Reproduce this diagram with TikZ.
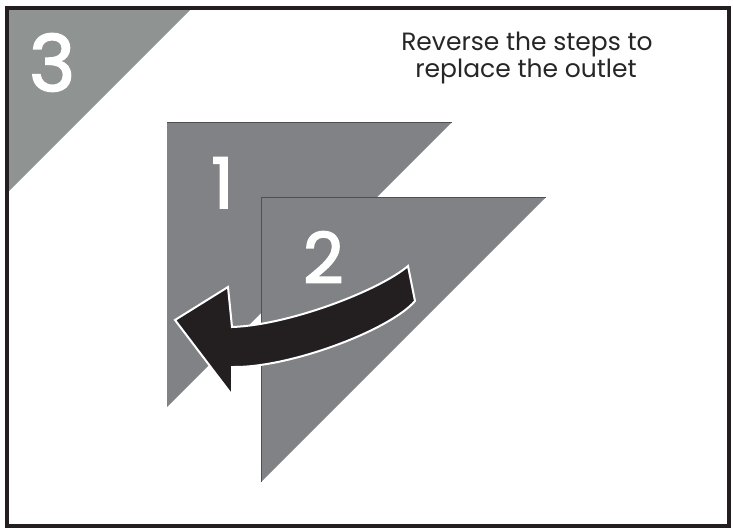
\documentclass[tikz,border=0pt]{standalone}
\usepackage{fontspec}
\setmainfont{Poppins}
\newfontfamily\numfont[FakeBold=2.4]{Poppins}
\definecolor{framecol}{HTML}{231F20}
\definecolor{cornergray}{HTML}{8F9492}
\definecolor{trigray}{HTML}{818285}
\definecolor{edgegray}{HTML}{4F4F52}
\tikzset{
  trishape/.style={fill=trigray, draw=none},
  triedge/.style={draw=edgegray, line width=0.8pt},
  bignum/.style={text=white, inner sep=0pt, font=\numfont\fontsize{78}{78}\selectfont},
  midnum/.style={text=white, inner sep=0pt, font=\numfont\fontsize{70}{70}\selectfont},
  caption/.style={text=black!85, inner sep=0pt, font=\fontsize{25}{27}\selectfont},
  arrowbody/.style={fill=framecol, draw=white, line width=2pt, line join=miter},
}
\begin{document}
\begin{tikzpicture}[x=1pt,y=-1pt]
\useasboundingbox (0,0) rectangle (733,528);
\fill[white] (0,0) rectangle (733,528);
% corner triangle
\fill[cornergray] (9,10) -- (190,10) -- (9,191) -- cycle;
\node[bignum, anchor=base west] (three) at (29,91) {3};
% triangle 1
\fill[trishape] (167,122) -- (452,122) -- (167,407) -- cycle;
\draw[triedge] (167,122) -- (452,122);
\node[midnum, anchor=base west] (one) at (211,208) {1};
% triangle 2
\fill[trishape] (261,197) -- (546,197) -- (261,482) -- cycle;
\draw[triedge] (261,482) -- (261,197) -- (546,197);
\node[midnum, anchor=base west] (two) at (303,283) {2};
% caption
\node[caption, anchor=base] (cap1) at (527,50) {Reverse the steps to};
\node[caption, anchor=base] (cap2) at (526,77) {replace the outlet};
% arrow
\draw[arrowbody] (408,266) .. controls (380,290) and (290,325) .. (232,327)
  -- (228,287) -- (175,320) -- (232,395) -- (232,367)
  .. controls (290,368) and (390,330) .. (415,301) -- cycle;
% frame
\draw[framecol, line width=4pt] (7,8) rectangle (728.5,526);
\end{tikzpicture}
\end{document}
